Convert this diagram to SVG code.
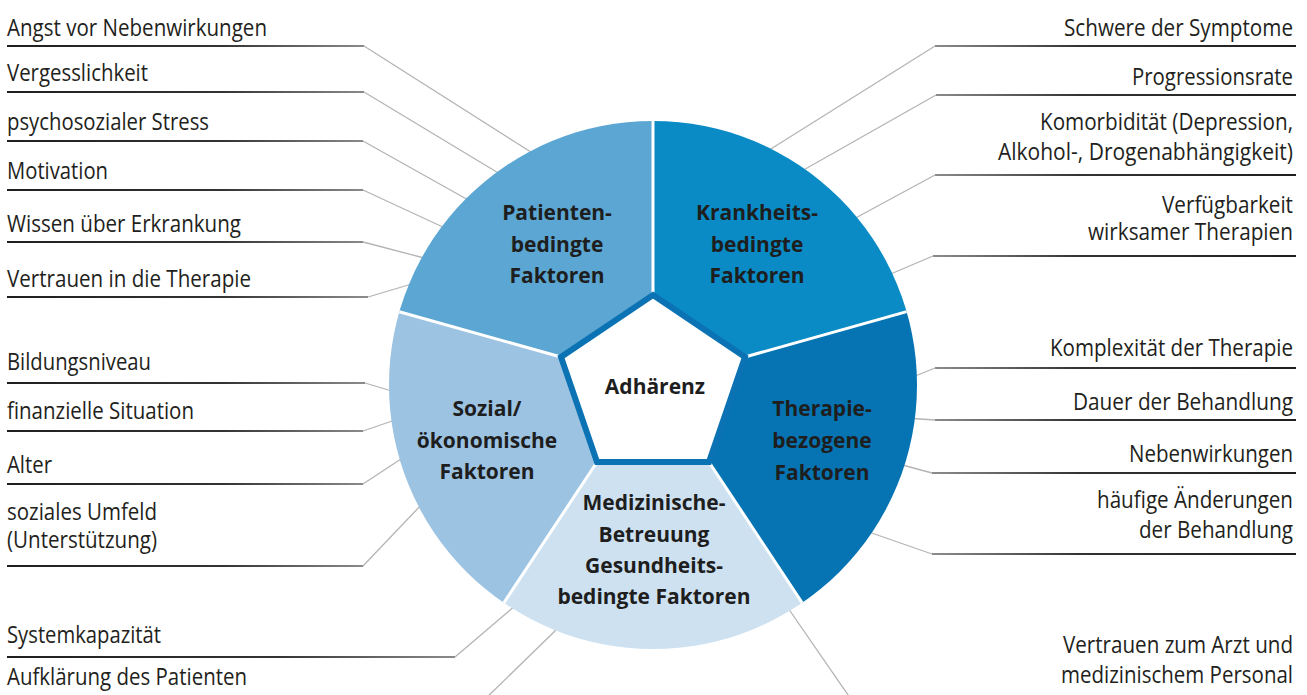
<svg xmlns="http://www.w3.org/2000/svg" width="1307" height="695" viewBox="0 0 1307 695">
  <defs>
    <style>
      .lbl { font-family: "Open Sans", "Liberation Sans", sans-serif; font-size: 23px; fill: #231f20; }
      .end { text-anchor: end; }
      .sec { font-family: "Open Sans", "Liberation Sans", sans-serif; font-weight: 700; font-size: 21px; fill: #1e1e1e; text-anchor: middle; }
      .diag { stroke: #b4b4b4; stroke-width: 1.3; fill: none; }
      .ulL { stroke: url(#fadeL); stroke-width: 2; }
      .ulR { stroke: url(#fadeR); stroke-width: 2; }
      .ulS { stroke: url(#fadeS); stroke-width: 2; }
      .divider { stroke: #ffffff; stroke-width: 3; }
    </style>
    <linearGradient id="fadeL" gradientUnits="userSpaceOnUse" x1="7" y1="0" x2="366" y2="0">
      <stop offset="0" stop-color="#1f1f1f"/>
      <stop offset="0.6" stop-color="#333333"/>
      <stop offset="1" stop-color="#8c8c8c"/>
    </linearGradient>
    <linearGradient id="fadeR" gradientUnits="userSpaceOnUse" x1="1296" y1="0" x2="934" y2="0">
      <stop offset="0" stop-color="#1f1f1f"/>
      <stop offset="0.6" stop-color="#333333"/>
      <stop offset="1" stop-color="#8c8c8c"/>
    </linearGradient>
    <linearGradient id="fadeS" gradientUnits="userSpaceOnUse" x1="7" y1="0" x2="456" y2="0">
      <stop offset="0" stop-color="#1f1f1f"/>
      <stop offset="0.6" stop-color="#333333"/>
      <stop offset="1" stop-color="#8c8c8c"/>
    </linearGradient>
    <clipPath id="disc">
      <circle cx="653" cy="385" r="264"/>
    </clipPath>
  </defs>

  <rect width="1307" height="695" fill="#ffffff"/>

  <!-- leader lines: underline + slanted run into the disc -->
  <g id="connectors">
    <!-- left, patient factors -->
    <line class="ulL" x1="7" y1="46" x2="364" y2="46"/><polyline class="diag" points="364,46 534,154"/>
    <line class="ulL" x1="7" y1="92" x2="364" y2="92"/><polyline class="diag" points="364,92 500,174"/>
    <line class="ulL" x1="7" y1="141" x2="363" y2="141"/><polyline class="diag" points="363,141 470,201"/>
    <line class="ulL" x1="7" y1="190" x2="363" y2="190"/><polyline class="diag" points="363,190 445,228"/>
    <line class="ulL" x1="7" y1="242" x2="363" y2="242"/><polyline class="diag" points="363,242 428,259"/>
    <line class="ulL" x1="7" y1="297" x2="368" y2="297"/><polyline class="diag" points="368,297 415,283"/>
    <!-- left, social factors -->
    <line class="ulL" x1="7" y1="383" x2="365" y2="383"/><polyline class="diag" points="365,383 395,392"/>
    <line class="ulL" x1="7" y1="431" x2="363" y2="431"/><polyline class="diag" points="363,431 398,419"/>
    <line class="ulL" x1="7" y1="484" x2="363" y2="484"/><polyline class="diag" points="363,484 404,457"/>
    <line class="ulL" x1="7" y1="566" x2="363" y2="566"/><polyline class="diag" points="363,566 424,502"/>
    <!-- bottom left, care factors -->
    <line class="ulS" x1="7" y1="657" x2="455" y2="657"/><polyline class="diag" points="455,657 516,605"/>
    <polyline class="diag" points="480,704 556,630"/>
    <!-- right, disease factors -->
    <line class="ulR" x1="1296" y1="46" x2="935" y2="46"/><polyline class="diag" points="935,46 766,152"/>
    <line class="ulR" x1="1296" y1="95" x2="936" y2="95"/><polyline class="diag" points="936,95 800,172"/>
    <line class="ulR" x1="1296" y1="175" x2="935" y2="175"/><polyline class="diag" points="935,175 850,221"/>
    <line class="ulR" x1="1296" y1="256" x2="933" y2="256"/><polyline class="diag" points="933,256 886,276"/>
    <!-- right, therapy factors -->
    <line class="ulR" x1="1296" y1="368" x2="935" y2="368"/><polyline class="diag" points="935,368 908,379"/>
    <line class="ulR" x1="1296" y1="420" x2="935" y2="420"/><polyline class="diag" points="935,420 905,418"/>
    <line class="ulR" x1="1296" y1="473" x2="932" y2="473"/><polyline class="diag" points="932,473 895,463"/>
    <line class="ulR" x1="1296" y1="554" x2="932" y2="554"/><polyline class="diag" points="932,554 863,530"/>
    <!-- bottom right -->
    <polyline class="diag" points="855,705 788,608"/>
  </g>

  <!-- disc sectors -->
  <g clip-path="url(#disc)">
    <g id="sector-patient"><polygon points="653,295 653,-300 -300,-300 -300,116 561,357" fill="#5ba6d2"/></g>
    <g id="sector-disease"><polygon points="653,295 653,-300 1600,-300 1600,117 745,357" fill="#0a8bc5"/></g>
    <g id="sector-therapy"><polygon points="745,357 1600,117 1600,1000 1065,1000 709,462" fill="#0674b3"/></g>
    <g id="sector-care"><polygon points="597,462 709,462 1065,1000 241,1000" fill="#cde1f1"/></g>
    <g id="sector-social"><polygon points="561,357 -300,116 -300,1000 241,1000 597,462" fill="#9cc3e2"/></g>
    <line class="divider" x1="653" y1="295" x2="653" y2="-300"/>
    <line class="divider" x1="561" y1="357" x2="-300" y2="116"/>
    <line class="divider" x1="745" y1="357" x2="1600" y2="117"/>
    <line class="divider" x1="597" y1="462" x2="241" y2="1000"/>
    <line class="divider" x1="709" y1="462" x2="1065" y2="1000"/>
  </g>

  <!-- centre -->
  <g id="node-adhaerenz">
    <polygon points="653,295 745,357 709,462 597,462 561,357" fill="#ffffff" stroke="#0b72b4" stroke-width="6"/>
    <text class="sec" x="655" y="394">Adhärenz</text>
  </g>

  <!-- sector titles -->
  <g id="title-patient">
    <text class="sec" x="557" y="220">Patienten-</text>
    <text class="sec" x="557" y="252">bedingte</text>
    <text class="sec" x="557" y="283">Faktoren</text>
  </g>
  <g id="title-disease">
    <text class="sec" x="757" y="220">Krankheits-</text>
    <text class="sec" x="757" y="252">bedingte</text>
    <text class="sec" x="757" y="283">Faktoren</text>
  </g>
  <g id="title-social">
    <text class="sec" x="487" y="416">Sozial/</text>
    <text class="sec" x="487" y="448">ökonomische</text>
    <text class="sec" x="487" y="479">Faktoren</text>
  </g>
  <g id="title-therapy">
    <text class="sec" x="822" y="416">Therapie-</text>
    <text class="sec" x="822" y="448">bezogene</text>
    <text class="sec" x="822" y="480">Faktoren</text>
  </g>
  <g id="title-care">
    <text class="sec" x="654" y="510">Medizinische-</text>
    <text class="sec" x="654" y="542">Betreuung</text>
    <text class="sec" x="654" y="573">Gesundheits-</text>
    <text class="sec" x="654" y="604">bedingte Faktoren</text>
  </g>

  <!-- left labels -->
  <g id="lbl-angst"><text class="lbl" x="7" y="36" textLength="260" lengthAdjust="spacingAndGlyphs">Angst vor Nebenwirkungen</text></g>
  <g id="lbl-vergesslichkeit"><text class="lbl" x="7" y="81" textLength="141" lengthAdjust="spacingAndGlyphs">Vergesslichkeit</text></g>
  <g id="lbl-stress"><text class="lbl" x="7" y="130" textLength="202" lengthAdjust="spacingAndGlyphs">psychosozialer Stress</text></g>
  <g id="lbl-motivation"><text class="lbl" x="7" y="179" textLength="101" lengthAdjust="spacingAndGlyphs">Motivation</text></g>
  <g id="lbl-wissen"><text class="lbl" x="7" y="232" textLength="234" lengthAdjust="spacingAndGlyphs">Wissen über Erkrankung</text></g>
  <g id="lbl-vertrauen-therapie"><text class="lbl" x="7" y="287" textLength="244" lengthAdjust="spacingAndGlyphs">Vertrauen in die Therapie</text></g>
  <g id="lbl-bildung"><text class="lbl" x="7" y="370" textLength="144" lengthAdjust="spacingAndGlyphs">Bildungsniveau</text></g>
  <g id="lbl-finanzen"><text class="lbl" x="7" y="419" textLength="187" lengthAdjust="spacingAndGlyphs">finanzielle Situation</text></g>
  <g id="lbl-alter"><text class="lbl" x="7" y="473" textLength="45" lengthAdjust="spacingAndGlyphs">Alter</text></g>
  <g id="lbl-umfeld">
    <text class="lbl" x="7" y="520" textLength="150" lengthAdjust="spacingAndGlyphs">soziales Umfeld</text>
    <text class="lbl" x="7" y="548" textLength="150" lengthAdjust="spacingAndGlyphs">(Unterstützung)</text>
  </g>
  <g id="lbl-system"><text class="lbl" x="7" y="643" textLength="154" lengthAdjust="spacingAndGlyphs">Systemkapazität</text></g>
  <g id="lbl-aufklaerung"><text class="lbl" x="7" y="685" textLength="240" lengthAdjust="spacingAndGlyphs">Aufklärung des Patienten</text></g>

  <!-- right labels -->
  <g id="lbl-schwere"><text class="lbl end" x="1293" y="36" textLength="229" lengthAdjust="spacingAndGlyphs">Schwere der Symptome</text></g>
  <g id="lbl-progression"><text class="lbl end" x="1293" y="85" textLength="161" lengthAdjust="spacingAndGlyphs">Progressionsrate</text></g>
  <g id="lbl-komorbiditaet">
    <text class="lbl end" x="1293" y="130" textLength="253" lengthAdjust="spacingAndGlyphs">Komorbidität (Depression,</text>
    <text class="lbl end" x="1293" y="160" textLength="295" lengthAdjust="spacingAndGlyphs">Alkohol-, Drogenabhängigkeit)</text>
  </g>
  <g id="lbl-verfuegbarkeit">
    <text class="lbl end" x="1293" y="213" textLength="131" lengthAdjust="spacingAndGlyphs">Verfügbarkeit</text>
    <text class="lbl end" x="1293" y="240" textLength="205" lengthAdjust="spacingAndGlyphs">wirksamer Therapien</text>
  </g>
  <g id="lbl-komplexitaet"><text class="lbl end" x="1293" y="356" textLength="243" lengthAdjust="spacingAndGlyphs">Komplexität der Therapie</text></g>
  <g id="lbl-dauer"><text class="lbl end" x="1293" y="410" textLength="220" lengthAdjust="spacingAndGlyphs">Dauer der Behandlung</text></g>
  <g id="lbl-nebenwirkungen"><text class="lbl end" x="1293" y="462" textLength="164" lengthAdjust="spacingAndGlyphs">Nebenwirkungen</text></g>
  <g id="lbl-aenderungen">
    <text class="lbl end" x="1293" y="508" textLength="196" lengthAdjust="spacingAndGlyphs">häufige Änderungen</text>
    <text class="lbl end" x="1293" y="538" textLength="154" lengthAdjust="spacingAndGlyphs">der Behandlung</text>
  </g>
  <g id="lbl-arzt">
    <text class="lbl end" x="1293" y="653" textLength="230" lengthAdjust="spacingAndGlyphs">Vertrauen zum Arzt und</text>
    <text class="lbl end" x="1293" y="683" textLength="232" lengthAdjust="spacingAndGlyphs">medizinischem Personal</text>
  </g>
</svg>
